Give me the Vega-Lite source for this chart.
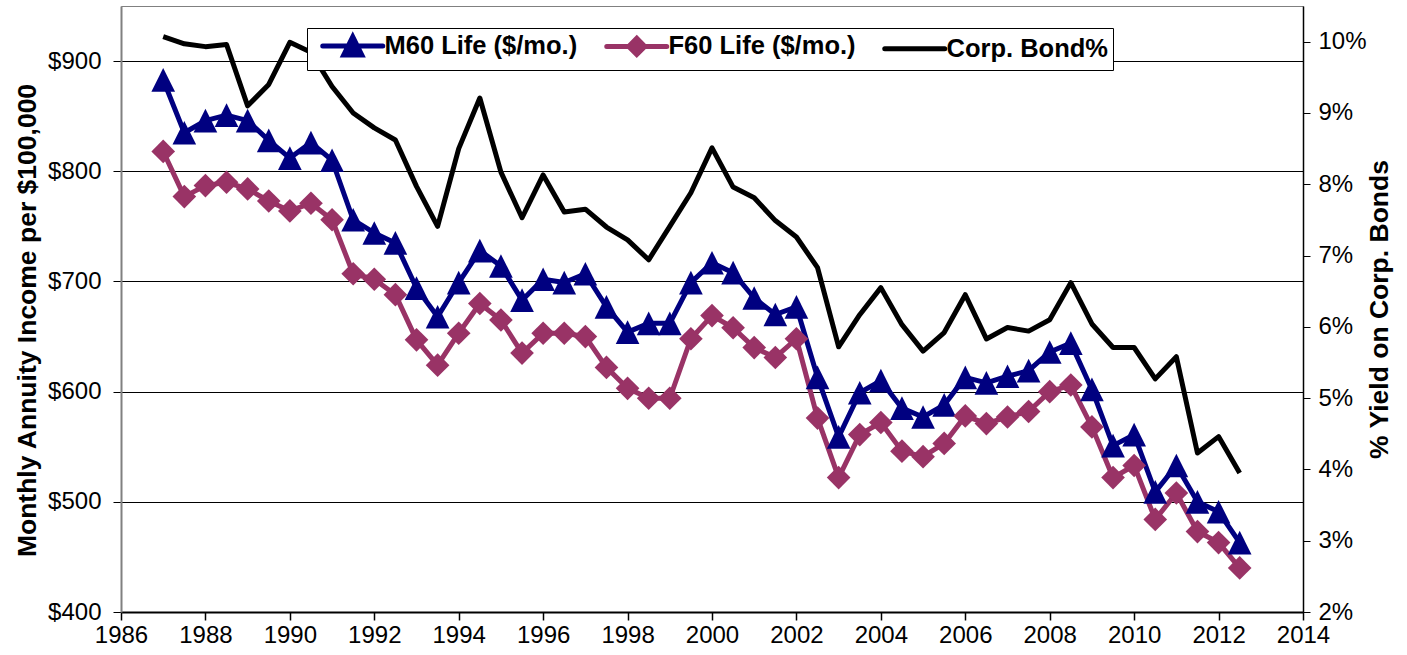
{
  "$schema": "https://vega.github.io/schema/vega-lite/v6.json",
  "width": 1182,
  "height": 606,
  "autosize": {"type": "none"},
  "padding": {"left": 121, "top": 6, "right": 104, "bottom": 43},
  "background": "white",
  "config": {
    "font": "Liberation Sans",
    "view": {"stroke": "#808080", "strokeWidth": 1},
    "axis": {"labelColor": "#000", "titleColor": "#000", "labelFontSize": 24, "titleFontSize": 26.5, "titleFontWeight": "bold", "tickColor": "#000"}
  },
  "datasets": {
    "annuity": [
      {"t":1987.0,"s":"M60 Life ($/mo.)","v":883},{"t":1987.5,"s":"M60 Life ($/mo.)","v":835},{"t":1988.0,"s":"M60 Life ($/mo.)","v":846},{"t":1988.5,"s":"M60 Life ($/mo.)","v":851},
      {"t":1989.0,"s":"M60 Life ($/mo.)","v":846},{"t":1989.5,"s":"M60 Life ($/mo.)","v":828},{"t":1990.0,"s":"M60 Life ($/mo.)","v":812},{"t":1990.5,"s":"M60 Life ($/mo.)","v":826},
      {"t":1991.0,"s":"M60 Life ($/mo.)","v":810},{"t":1991.5,"s":"M60 Life ($/mo.)","v":756},{"t":1992.0,"s":"M60 Life ($/mo.)","v":744},{"t":1992.5,"s":"M60 Life ($/mo.)","v":735},
      {"t":1993.0,"s":"M60 Life ($/mo.)","v":694},{"t":1993.5,"s":"M60 Life ($/mo.)","v":668},{"t":1994.0,"s":"M60 Life ($/mo.)","v":699},{"t":1994.5,"s":"M60 Life ($/mo.)","v":728},
      {"t":1995.0,"s":"M60 Life ($/mo.)","v":714},{"t":1995.5,"s":"M60 Life ($/mo.)","v":683},{"t":1996.0,"s":"M60 Life ($/mo.)","v":702},{"t":1996.5,"s":"M60 Life ($/mo.)","v":699},
      {"t":1997.0,"s":"M60 Life ($/mo.)","v":707},{"t":1997.5,"s":"M60 Life ($/mo.)","v":677},{"t":1998.0,"s":"M60 Life ($/mo.)","v":654},{"t":1998.5,"s":"M60 Life ($/mo.)","v":662},
      {"t":1999.0,"s":"M60 Life ($/mo.)","v":662},{"t":1999.5,"s":"M60 Life ($/mo.)","v":699},{"t":2000.0,"s":"M60 Life ($/mo.)","v":717},{"t":2000.5,"s":"M60 Life ($/mo.)","v":708},
      {"t":2001.0,"s":"M60 Life ($/mo.)","v":685},{"t":2001.5,"s":"M60 Life ($/mo.)","v":670},{"t":2002.0,"s":"M60 Life ($/mo.)","v":677},{"t":2002.5,"s":"M60 Life ($/mo.)","v":613},
      {"t":2003.0,"s":"M60 Life ($/mo.)","v":559},{"t":2003.5,"s":"M60 Life ($/mo.)","v":599},{"t":2004.0,"s":"M60 Life ($/mo.)","v":610},{"t":2004.5,"s":"M60 Life ($/mo.)","v":585},
      {"t":2005.0,"s":"M60 Life ($/mo.)","v":577},{"t":2005.5,"s":"M60 Life ($/mo.)","v":588},{"t":2006.0,"s":"M60 Life ($/mo.)","v":613},{"t":2006.5,"s":"M60 Life ($/mo.)","v":608},
      {"t":2007.0,"s":"M60 Life ($/mo.)","v":614},{"t":2007.5,"s":"M60 Life ($/mo.)","v":619},{"t":2008.0,"s":"M60 Life ($/mo.)","v":636},{"t":2008.5,"s":"M60 Life ($/mo.)","v":644},
      {"t":2009.0,"s":"M60 Life ($/mo.)","v":602},{"t":2009.5,"s":"M60 Life ($/mo.)","v":551},{"t":2010.0,"s":"M60 Life ($/mo.)","v":561},{"t":2010.5,"s":"M60 Life ($/mo.)","v":509},
      {"t":2011.0,"s":"M60 Life ($/mo.)","v":533},{"t":2011.5,"s":"M60 Life ($/mo.)","v":500},{"t":2012.0,"s":"M60 Life ($/mo.)","v":491},{"t":2012.5,"s":"M60 Life ($/mo.)","v":463},
      {"t":1987.0,"s":"F60 Life ($/mo.)","v":818},{"t":1987.5,"s":"F60 Life ($/mo.)","v":777},{"t":1988.0,"s":"F60 Life ($/mo.)","v":787},{"t":1988.5,"s":"F60 Life ($/mo.)","v":790},
      {"t":1989.0,"s":"F60 Life ($/mo.)","v":784},{"t":1989.5,"s":"F60 Life ($/mo.)","v":773},{"t":1990.0,"s":"F60 Life ($/mo.)","v":764},{"t":1990.5,"s":"F60 Life ($/mo.)","v":771},
      {"t":1991.0,"s":"F60 Life ($/mo.)","v":756},{"t":1991.5,"s":"F60 Life ($/mo.)","v":707},{"t":1992.0,"s":"F60 Life ($/mo.)","v":702},{"t":1992.5,"s":"F60 Life ($/mo.)","v":688},
      {"t":1993.0,"s":"F60 Life ($/mo.)","v":647},{"t":1993.5,"s":"F60 Life ($/mo.)","v":624},{"t":1994.0,"s":"F60 Life ($/mo.)","v":653},{"t":1994.5,"s":"F60 Life ($/mo.)","v":680},
      {"t":1995.0,"s":"F60 Life ($/mo.)","v":665},{"t":1995.5,"s":"F60 Life ($/mo.)","v":635},{"t":1996.0,"s":"F60 Life ($/mo.)","v":653},{"t":1996.5,"s":"F60 Life ($/mo.)","v":653},
      {"t":1997.0,"s":"F60 Life ($/mo.)","v":650},{"t":1997.5,"s":"F60 Life ($/mo.)","v":622},{"t":1998.0,"s":"F60 Life ($/mo.)","v":603},{"t":1998.5,"s":"F60 Life ($/mo.)","v":594},
      {"t":1999.0,"s":"F60 Life ($/mo.)","v":594},{"t":1999.5,"s":"F60 Life ($/mo.)","v":648},{"t":2000.0,"s":"F60 Life ($/mo.)","v":669},{"t":2000.5,"s":"F60 Life ($/mo.)","v":658},
      {"t":2001.0,"s":"F60 Life ($/mo.)","v":640},{"t":2001.5,"s":"F60 Life ($/mo.)","v":631},{"t":2002.0,"s":"F60 Life ($/mo.)","v":648},{"t":2002.5,"s":"F60 Life ($/mo.)","v":576},
      {"t":2003.0,"s":"F60 Life ($/mo.)","v":522},{"t":2003.5,"s":"F60 Life ($/mo.)","v":561},{"t":2004.0,"s":"F60 Life ($/mo.)","v":572},{"t":2004.5,"s":"F60 Life ($/mo.)","v":546},
      {"t":2005.0,"s":"F60 Life ($/mo.)","v":541},{"t":2005.5,"s":"F60 Life ($/mo.)","v":553},{"t":2006.0,"s":"F60 Life ($/mo.)","v":578},{"t":2006.5,"s":"F60 Life ($/mo.)","v":571},
      {"t":2007.0,"s":"F60 Life ($/mo.)","v":577},{"t":2007.5,"s":"F60 Life ($/mo.)","v":582},{"t":2008.0,"s":"F60 Life ($/mo.)","v":600},{"t":2008.5,"s":"F60 Life ($/mo.)","v":606},
      {"t":2009.0,"s":"F60 Life ($/mo.)","v":568},{"t":2009.5,"s":"F60 Life ($/mo.)","v":522},{"t":2010.0,"s":"F60 Life ($/mo.)","v":533},{"t":2010.5,"s":"F60 Life ($/mo.)","v":484},
      {"t":2011.0,"s":"F60 Life ($/mo.)","v":508},{"t":2011.5,"s":"F60 Life ($/mo.)","v":473},{"t":2012.0,"s":"F60 Life ($/mo.)","v":463},{"t":2012.5,"s":"F60 Life ($/mo.)","v":440}
    ],
    "bond": [
      {"t":1987.0,"y":10.07},{"t":1987.5,"y":9.97},{"t":1988.0,"y":9.93},{"t":1988.5,"y":9.96},{"t":1989.0,"y":9.10},{"t":1989.5,"y":9.40},
      {"t":1990.0,"y":9.99},{"t":1990.5,"y":9.85},{"t":1991.0,"y":9.37},{"t":1991.5,"y":9.00},{"t":1992.0,"y":8.79},{"t":1992.5,"y":8.62},
      {"t":1993.0,"y":7.97},{"t":1993.5,"y":7.41},{"t":1994.0,"y":8.50},{"t":1994.5,"y":9.21},{"t":1995.0,"y":8.17},{"t":1995.5,"y":7.53},
      {"t":1996.0,"y":8.13},{"t":1996.5,"y":7.61},{"t":1997.0,"y":7.65},{"t":1997.5,"y":7.40},{"t":1998.0,"y":7.22},{"t":1998.5,"y":6.94},
      {"t":1999.0,"y":7.41},{"t":1999.5,"y":7.88},{"t":2000.0,"y":8.51},{"t":2000.5,"y":7.96},{"t":2001.0,"y":7.81},{"t":2001.5,"y":7.49},
      {"t":2002.0,"y":7.26},{"t":2002.5,"y":6.83},{"t":2003.0,"y":5.72},{"t":2003.5,"y":6.17},{"t":2004.0,"y":6.55},{"t":2004.5,"y":6.03},
      {"t":2005.0,"y":5.66},{"t":2005.5,"y":5.92},{"t":2006.0,"y":6.45},{"t":2006.5,"y":5.83},{"t":2007.0,"y":5.99},{"t":2007.5,"y":5.94},
      {"t":2008.0,"y":6.10},{"t":2008.5,"y":6.62},{"t":2009.0,"y":6.04},{"t":2009.5,"y":5.71},{"t":2010.0,"y":5.71},{"t":2010.5,"y":5.27},
      {"t":2011.0,"y":5.58},{"t":2011.5,"y":4.23},{"t":2012.0,"y":4.46},{"t":2012.5,"y":3.95}
    ]
  },
  "encoding": {
    "x": {
      "field": "t", "type": "quantitative",
      "scale": {"domain": [1986, 2014], "nice": false, "zero": false},
      "axis": {"title": null, "values": [1986,1988,1990,1992,1994,1996,1998,2000,2002,2004,2006,2008,2010,2012,2014], "format": "d", "grid": false, "domainColor": "#000", "domainWidth": 2, "tickSize": 8, "tickWidth": 1.5, "labelPadding": 3, "labelFlush": false}
    }
  },
  "layer": [
    {
      "data": {"name": "annuity"},
      "encoding": {
        "y": {
          "field": "v", "type": "quantitative",
          "scale": {"domain": [400, 950], "nice": false, "zero": false},
          "axis": {"orient": "left", "title": "Monthly Annuity Income per $100,000", "titleY": 314, "values": [400,500,600,700,800,900], "labelExpr": "'$' + datum.value", "grid": true, "gridColor": "#000", "gridWidth": 1, "domainColor": "#808080", "domainWidth": 2, "tickSize": 8, "labelPadding": 12, "titlePadding": 6}
        }
      },
      "layer": [
        {
          "mark": {"type": "line", "strokeWidth": 5, "strokeJoin": "round"},
          "encoding": {
            "color": {
              "field": "s", "type": "nominal",
              "scale": {"domain": ["M60 Life ($/mo.)", "F60 Life ($/mo.)", "Corp. Bond%"], "range": ["#000080", "#993366", "#000000"]},
              "legend": {
                "title": null, "orient": "none", "legendX": 186, "legendY": 22, "direction": "horizontal", "columns": 3,
                "labelFontSize": 25.5, "labelFontWeight": "bold", "labelColor": "#000", "labelFont": "Liberation Sans", "labelLimit": 600,
                "symbolSize": 400, "symbolOffset": 8, "labelOffset": 39, "columnPadding": 18, "padding": 5,
                "strokeColor": "#000", "fillColor": "#fff",
                "encode": {
                  "symbols": {
                    "update": {
                      "shape": {"signal": "datum.value == 'M60 Life ($/mo.)' ? 'M-1,0H5M2,-0.9L2.9,0.9L1.1,0.9Z' : (datum.value == 'F60 Life ($/mo.)' ? 'M-1,0H5M2,-0.8L2.8,0L2,0.8L1.2,0Z' : 'M-1,0H5')"},
                      "fill": {"signal": "datum.value == 'M60 Life ($/mo.)' ? '#000080' : (datum.value == 'F60 Life ($/mo.)' ? '#993366' : '#000000')"},
                      "stroke": {"signal": "datum.value == 'M60 Life ($/mo.)' ? '#000080' : (datum.value == 'F60 Life ($/mo.)' ? '#993366' : '#000000')"},
                      "strokeWidth": {"value": 5},
                      "strokeCap": {"value": "round"},
                      "opacity": {"value": 1},
                      "fillOpacity": {"value": 1}
                    }
                  }
                }
              }
            }
          }
        },
        {
          "mark": {"type": "point", "filled": true, "opacity": 1},
          "encoding": {
            "color": {"field": "s", "type": "nominal"},
            "shape": {"field": "s", "type": "nominal", "scale": {"domain": ["M60 Life ($/mo.)", "F60 Life ($/mo.)"], "range": ["M0,-1L1,1L-1,1Z", "diamond"]}, "legend": null},
            "size": {"value": 560}
          }
        }
      ]
    },
    {
      "data": {"name": "bond"},
      "mark": {"type": "line", "strokeWidth": 5, "strokeJoin": "round"},
      "encoding": {
        "y": {
          "field": "y", "type": "quantitative",
          "scale": {"domain": [2, 10.5], "nice": false, "zero": false},
          "axis": {"orient": "right", "title": "% Yield on Corp. Bonds", "titleAngle": 270, "values": [2,3,4,5,6,7,8,9,10], "labelExpr": "datum.value + '%'", "grid": false, "domainColor": "#000", "domainWidth": 1.5, "tickSize": 7, "labelPadding": 8, "titlePadding": 27}
        },
        "color": {"datum": "Corp. Bond%"}
      }
    }
  ],
  "resolve": {"scale": {"y": "independent"}}
}
